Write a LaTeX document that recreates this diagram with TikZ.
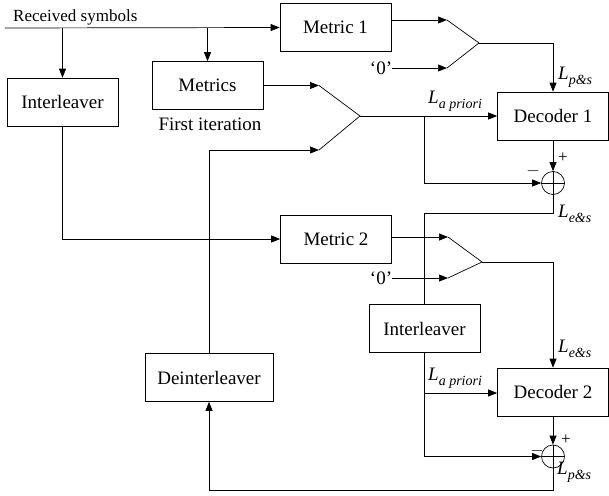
\documentclass[tikz,border=0pt]{standalone}
\usepackage{fontspec}
\setmainfont{Liberation Serif}
\usetikzlibrary{arrows.meta}

\newcommand{\Lsub}[1]{\textit{L}\raisebox{-0.55ex}{\fontsize{14}{14}\selectfont\itshape #1}}

\begin{document}
\begin{tikzpicture}
[x=1pt,y=-1pt,
  sigArrow/.style={-{Triangle[length=9pt,width=7pt]},line width=0.7pt},%
  sigLine/.style={line width=0.7pt},%
  blockDecorate/.style={shape=rectangle,draw,line width=0.7pt,minimum width=111pt,minimum height=48pt,font=\fontsize{19}{22}\selectfont},%
  sumDecorate/.style={shape=circle,draw,line width=0.7pt,minimum size=23pt,inner sep=0pt},%
  labelText/.style={font=\fontsize{19}{22}\selectfont,inner sep=0pt}]
\useasboundingbox (0,0) rectangle (609,495);
%% blocks
\foreach \nodename/\x/\y/\txt in {intlA/62.5/102/Interleaver, metrics/207.5/85.5/Metrics,
  metricA/335.5/27.5/Metric 1, decA/553/116/Decoder 1, metricB/336/239/Metric 2,
  intlB/424.5/328.5/Interleaver, decB/553/392/Decoder 2}
{
  \node (\nodename) at (\x,\y) [blockDecorate] {\txt};
}
\node (deintl) at (209,377.5) [blockDecorate,minimum width=128pt] {Deinterleaver};
%% summing points
\foreach \nodename/\x/\y in {sumA/553/183, sumB/553/456.5}
{
  \node (\nodename) at (\x,\y) [sumDecorate] {};
  \draw[sigLine] (\nodename.north) -- (\nodename.south) (\nodename.west) -- (\nodename.east);
}
%% switch corners
\foreach \nodename/\x/\y in {swAin1/447/20, swAin2/447/68, swAout/479/43,
  swBin1/319/85.5, swBin2/319/150, swBout/360/116,
  swCin1/448/237, swCin2/448/278, swCout/482/262}
{
  \coordinate (\nodename) at (\x,\y);
}
\foreach \sw in {swA, swB, swC}
{
  \draw[sigLine] (\sw in1) -- (\sw out) -- (\sw in2);
}
\coordinate (rxIn) at (5,28);
\coordinate (tapA) at (424,116);
\coordinate (turnA) at (553,213);
\coordinate (tapB) at (424,393);
\coordinate (turnB) at (553,490);
%% texts
\node (rxText) at (13,22) [labelText,anchor=base west,font=\fontsize{17}{20}\selectfont] {Received symbols};
\node (firstIt) at (210,124) [labelText] {First iteration};
\node (zeroA) at (381,68) [labelText] {`0'};
\node (zeroB) at (381,278) [labelText] {`0'};
\node (lpsA) at (558,77) [labelText,anchor=west] {\Lsub{p\&s}};
\node (lapA) at (428,101) [labelText,anchor=west] {\Lsub{a priori}};
\node (lesA) at (558,214) [labelText,anchor=west] {\Lsub{e\&s}};
\node (lesB) at (558,349) [labelText,anchor=west] {\Lsub{e\&s}};
\node (lapB) at (428,378) [labelText,anchor=west] {\Lsub{a priori}};
\node (lpsB) at (557,472) [labelText,anchor=west] {\Lsub{p\&s}};
\foreach \nodename/\x/\y/\sign in {plusA/563/158/+, minusA/533/171/$-$, plusB/566/440/+, minusB/537/451/$-$}
{
  \node (\nodename) at (\x,\y) [inner sep=0pt,font=\fontsize{17}{17}\selectfont] {\sign};
}
%% connectors
\draw[sigArrow] (rxIn) -- (metricA.west);
\draw[sigArrow] (intlA.north |- rxIn) -- (intlA.north);
\draw[sigArrow] (metrics.north |- rxIn) -- (metrics.north);
\draw[sigArrow] (metricA.east |- swAin1) -- (swAin1);
\draw[sigArrow] (zeroA.east) -- (swAin2);
\draw[sigArrow] (swAout) -| (decA.north);
\draw[sigArrow] (metrics.east |- swBin1) -- (swBin1);
\draw[sigArrow] (deintl.north) |- (swBin2);
\draw[sigArrow] (swBout) -- (decA.west);
\draw[sigArrow] (tapA) |- (sumA.west);
\draw[sigArrow] (decA.south) -- (sumA.north);
\draw[sigLine] (sumA.south) -- (turnA) -| (intlB.north -| tapA);
\draw[sigArrow] (intlA.south) |- (metricB.west);
\draw[sigArrow] (metricB.east |- swCin1) -- (swCin1);
\draw[sigArrow] (zeroB.east) -- (swCin2);
\draw[sigArrow] (swCout) -| (decB.north);
\draw[sigArrow] (intlB.south -| tapB) -- (tapB) -- (decB.west |- tapB);
\draw[sigArrow] (tapB) |- (sumB.west);
\draw[sigArrow] (decB.south) -- (sumB.north);
\draw[sigArrow] (sumB.south) -- (turnB) -| (deintl.south);
\end{tikzpicture}
\end{document}
